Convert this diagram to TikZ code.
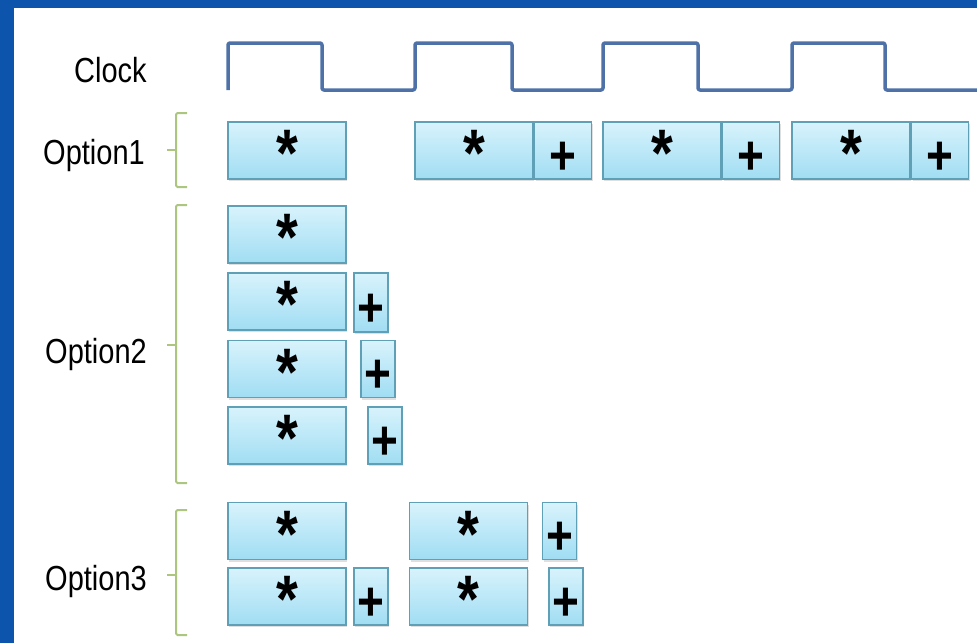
\documentclass[tikz,border=0pt]{standalone}
\usepackage{fontspec}
\setmainfont{Liberation Sans}
\usepackage{tikz}
\usetikzlibrary{positioning,shadows}
\definecolor{frameblue}{RGB}{12,84,172}
\definecolor{clkblue}{RGB}{78,114,168}
\definecolor{boxtop}{RGB}{216,243,252}
\definecolor{boxbot}{RGB}{160,221,243}
\definecolor{boxline}{RGB}{96,160,182}
\definecolor{brcgreen}{RGB}{172,198,128}
\newcommand{\tall}[1]{\scalebox{1}[1.2]{#1}}

\begin{document}
\begin{tikzpicture}[x=1pt,y=-1pt,
  op/.style={draw=boxline, line width=1.5pt, top color=boxtop, bottom color=boxbot,
    inner sep=0pt, minimum height=57pt, text depth=0pt,
    drop shadow={shadow xshift=1pt, shadow yshift=-2pt, opacity=0.25}},
  mul/.style={op, minimum width=118pt, text height=52pt, font=\fontsize{56}{56}\selectfont\bfseries},
  add/.style={op, minimum width=34pt, text height=47pt, font=\fontsize{46}{46}\selectfont\bfseries},
  lbl/.style={anchor=base west, inner sep=0pt, font=\fontsize{29}{30}\selectfont},
  brc/.style={draw=brcgreen, line width=2pt, rounded corners=1.5pt},
  clk/.style={draw=clkblue, line width=3.5pt, line join=round, rounded corners=2pt}]
\useasboundingbox (0,0) rectangle (977,643);
\fill[frameblue] (0,0) rectangle (977,643);
\fill[white] (14,8) rectangle (977,643);

% labels
\node[lbl] (clock) at (74,82) {\tall{Clock}};
\node[lbl] (opt1) at (43,164) {\tall{Option1}};
\node[lbl] (opt2) at (45,363) {\tall{Option2}};
\node[lbl] (opt3) at (45,590) {\tall{Option3}};

% clock
\draw[clk] (228,90) -- (228,43) -- (322,43) -- (322,90) -- (415,90) -- (415,43) -- (512,43)
  -- (512,90) -- (603,90) -- (603,43) -- (698,43) -- (698,90) -- (792,90) -- (792,43)
  -- (885,43) -- (885,90) -- (978,90);

% braces
\draw[brc] (187,113) -- (176,113) -- (176,187) -- (187,187);
\draw[brc] (176,150) -- (167,150);
\draw[brc] (187,205) -- (176,205) -- (176,483) -- (187,483);
\draw[brc] (176,345) -- (167,345);
\draw[brc] (187,510) -- (176,510) -- (176,635) -- (187,635);
\draw[brc] (176,575) -- (167,575);

% option 1
\node[mul] (a1) at (287,150.5) {\tall{*}};
\node[mul] (a2) at (474,150.5) {\tall{*}};
\node[add, minimum width=57pt, right=0pt of a2] (b2) {\tall{+}};
\node[mul] (a3) at (662,150.5) {\tall{*}};
\node[add, minimum width=57pt, right=0pt of a3] (b3) {\tall{+}};
\node[mul] (a4) at (851,150.5) {\tall{*}};
\node[add, minimum width=57pt, right=0pt of a4] (b4) {\tall{+}};

% option 2
\node[mul] (c1) at (287,234.5) {\tall{*}};
\node[mul] (c2) at (287,301.5) {\tall{*}};
\node[add, minimum height=59pt] (d2) at (371,302.5) {\tall{+}};
\node[mul] (c3) at (287,369) {\tall{*}};
\node[add] (d3) at (378,369) {\tall{+}};
\node[mul] (c4) at (287,435.5) {\tall{*}};
\node[add] (d4) at (385,435.5) {\tall{+}};

% option 3
\node[mul] (e1) at (287,531) {\tall{*}};
\node[mul] (e2) at (468.5,531) {\tall{*}};
\node[add] (f2) at (559.5,531) {\tall{+}};
\node[mul] (e3) at (287,596.5) {\tall{*}};
\node[add] (f3) at (371,596.5) {\tall{+}};
\node[mul] (e4) at (468.5,596.5) {\tall{*}};
\node[add] (f4) at (566,596.5) {\tall{+}};
\end{tikzpicture}
\end{document}
